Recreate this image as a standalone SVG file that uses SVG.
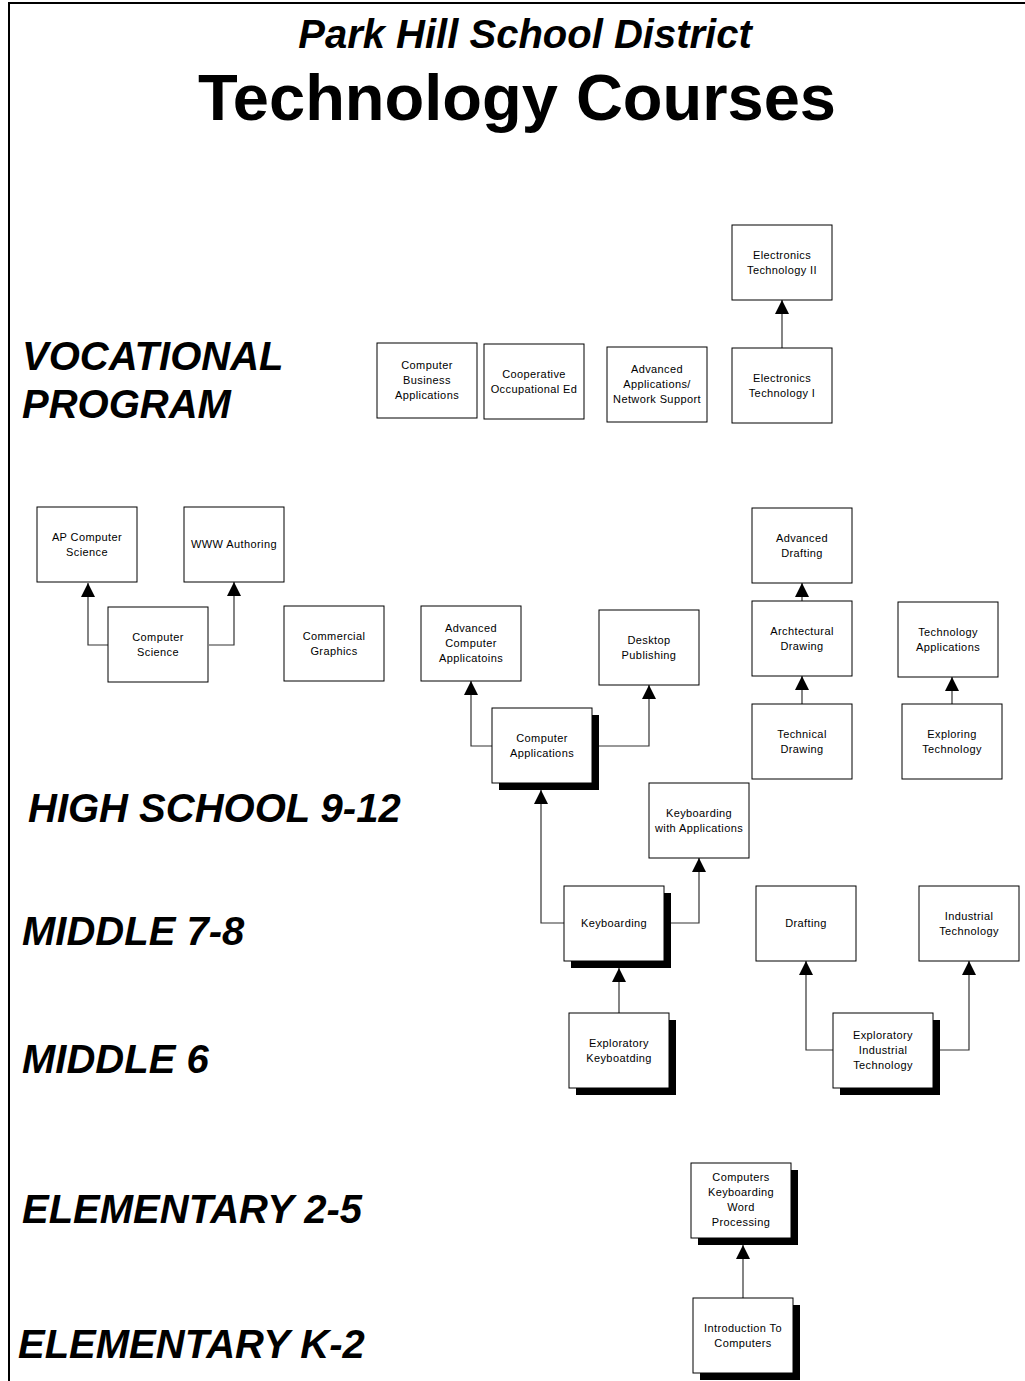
<svg xmlns="http://www.w3.org/2000/svg" width="1025" height="1381" viewBox="0 0 1025 1381">
<style>
.bg{fill:#fff}
.frame{fill:none;stroke:#000;stroke-width:2}
.box{fill:#fff;stroke:#000;stroke-width:1}
.sh{fill:#000}
.lbl{font-family:"Liberation Sans",Arial,sans-serif;font-size:11px;letter-spacing:0.4px;text-anchor:middle;fill:#000}
.lvl{font-family:"Liberation Sans",Arial,sans-serif;font-size:40px;font-weight:bold;font-style:italic;fill:#000}
.conn{fill:none;stroke:#333;stroke-width:1.2;marker-end:url(#ah)}
</style>
<defs>
<marker id="ah" markerUnits="userSpaceOnUse" markerWidth="14" markerHeight="14" refX="14" refY="7" orient="auto">
<path d="M0,0 L14,7 L0,14 z" fill="#000"/>
</marker>
</defs>
<rect class="bg" x="0" y="0" width="1025" height="1381"/>
<rect class="frame" x="9" y="3" width="1100" height="1500"/>

<g id="titles">
<text x="525" y="48" text-anchor="middle" font-family="'Liberation Sans',Arial,sans-serif" font-size="40" font-weight="bold" font-style="italic">Park Hill School District</text>
<text x="517" y="120" text-anchor="middle" font-family="'Liberation Sans',Arial,sans-serif" font-size="65" font-weight="bold">Technology Courses</text>
</g>

<g id="levels">
<text class="lvl" x="22" y="370">VOCATIONAL</text>
<text class="lvl" x="22" y="418">PROGRAM</text>
<text class="lvl" x="28" y="822">HIGH SCHOOL 9-12</text>
<text class="lvl" x="22" y="945">MIDDLE 7-8</text>
<text class="lvl" x="22" y="1073">MIDDLE 6</text>
<text class="lvl" x="22" y="1223">ELEMENTARY 2-5</text>
<text class="lvl" x="18" y="1358">ELEMENTARY K-2</text>
</g>

<g id="connectors">
<path class="conn" d="M782,348 V300"/>
<path class="conn" d="M108,645 H88 V583"/>
<path class="conn" d="M209,645 H234 V582"/>
<path class="conn" d="M492,746 H471 V681"/>
<path class="conn" d="M599,746 H649 V685"/>
<path class="conn" d="M802,601 V583"/>
<path class="conn" d="M802,704 V676"/>
<path class="conn" d="M952,704 V677"/>
<path class="conn" d="M564,923 H541 V790"/>
<path class="conn" d="M671,923 H699 V858"/>
<path class="conn" d="M619,1013 V968"/>
<path class="conn" d="M833,1050 H806 V961"/>
<path class="conn" d="M940,1050 H969 V961"/>
<path class="conn" d="M743,1298 V1245"/>
</g>

<g id="cba"><rect class="box" x="377" y="343" width="100" height="75"/><text class="lbl" x="427" y="369">Computer</text><text class="lbl" x="427" y="384">Business</text><text class="lbl" x="427" y="399">Applications</text></g>
<g id="coe"><rect class="box" x="484" y="344" width="100" height="75"/><text class="lbl" x="534" y="377.5">Cooperative</text><text class="lbl" x="534" y="392.5">Occupational Ed</text></g>
<g id="aans"><rect class="box" x="607" y="347" width="100" height="75"/><text class="lbl" x="657" y="373">Advanced</text><text class="lbl" x="657" y="388">Applications/</text><text class="lbl" x="657" y="403">Network Support</text></g>
<g id="et1"><rect class="box" x="732" y="348" width="100" height="75"/><text class="lbl" x="782" y="381.5">Electronics</text><text class="lbl" x="782" y="396.5">Technology I</text></g>
<g id="et2"><rect class="box" x="732" y="225" width="100" height="75"/><text class="lbl" x="782" y="258.5">Electronics</text><text class="lbl" x="782" y="273.5">Technology II</text></g>

<g id="apcs"><rect class="box" x="37" y="507" width="100" height="75"/><text class="lbl" x="87" y="540.5">AP Computer</text><text class="lbl" x="87" y="555.5">Science</text></g>
<g id="www"><rect class="box" x="184" y="507" width="100" height="75"/><text class="lbl" x="234" y="547.5">WWW Authoring</text></g>
<g id="cs"><rect class="box" x="108" y="607" width="100" height="75"/><text class="lbl" x="158" y="640.5">Computer</text><text class="lbl" x="158" y="655.5">Science</text></g>
<g id="cg"><rect class="box" x="284" y="606" width="100" height="75"/><text class="lbl" x="334" y="639.5">Commercial</text><text class="lbl" x="334" y="654.5">Graphics</text></g>
<g id="aca"><rect class="box" x="421" y="606" width="100" height="75"/><text class="lbl" x="471" y="632">Advanced</text><text class="lbl" x="471" y="647">Computer</text><text class="lbl" x="471" y="662">Applicatoins</text></g>
<g id="dp"><rect class="box" x="599" y="610" width="100" height="75"/><text class="lbl" x="649" y="643.5">Desktop</text><text class="lbl" x="649" y="658.5">Publishing</text></g>
<g id="ca"><rect class="sh" x="499" y="715" width="100" height="75"/><rect class="box" x="492" y="708" width="100" height="75"/><text class="lbl" x="542" y="741.5">Computer</text><text class="lbl" x="542" y="756.5">Applications</text></g>
<g id="ad"><rect class="box" x="752" y="508" width="100" height="75"/><text class="lbl" x="802" y="541.5">Advanced</text><text class="lbl" x="802" y="556.5">Drafting</text></g>
<g id="ard"><rect class="box" x="752" y="601" width="100" height="75"/><text class="lbl" x="802" y="634.5">Archtectural</text><text class="lbl" x="802" y="649.5">Drawing</text></g>
<g id="td"><rect class="box" x="752" y="704" width="100" height="75"/><text class="lbl" x="802" y="737.5">Technical</text><text class="lbl" x="802" y="752.5">Drawing</text></g>
<g id="ta"><rect class="box" x="898" y="602" width="100" height="75"/><text class="lbl" x="948" y="635.5">Technology</text><text class="lbl" x="948" y="650.5">Applications</text></g>
<g id="et"><rect class="box" x="902" y="704" width="100" height="75"/><text class="lbl" x="952" y="737.5">Exploring</text><text class="lbl" x="952" y="752.5">Technology</text></g>

<g id="kwa"><rect class="box" x="649" y="783" width="100" height="75"/><text class="lbl" x="699" y="816.5">Keyboarding</text><text class="lbl" x="699" y="831.5">with Applications</text></g>
<g id="kb"><rect class="sh" x="571" y="893" width="100" height="75"/><rect class="box" x="564" y="886" width="100" height="75"/><text class="lbl" x="614" y="927">Keyboarding</text></g>
<g id="dr"><rect class="box" x="756" y="886" width="100" height="75"/><text class="lbl" x="806" y="927">Drafting</text></g>
<g id="it"><rect class="box" x="919" y="886" width="100" height="75"/><text class="lbl" x="969" y="919.5">Industrial</text><text class="lbl" x="969" y="934.5">Technology</text></g>

<g id="ek"><rect class="sh" x="576" y="1020" width="100" height="75"/><rect class="box" x="569" y="1013" width="100" height="75"/><text class="lbl" x="619" y="1046.5">Exploratory</text><text class="lbl" x="619" y="1061.5">Keyboatding</text></g>
<g id="eit"><rect class="sh" x="840" y="1020" width="100" height="75"/><rect class="box" x="833" y="1013" width="100" height="75"/><text class="lbl" x="883" y="1039">Exploratory</text><text class="lbl" x="883" y="1054">Industrial</text><text class="lbl" x="883" y="1069">Technology</text></g>

<g id="ckwp"><rect class="sh" x="698" y="1170" width="100" height="75"/><rect class="box" x="691" y="1163" width="100" height="75"/><text class="lbl" x="741" y="1181">Computers</text><text class="lbl" x="741" y="1196">Keyboarding</text><text class="lbl" x="741" y="1211">Word</text><text class="lbl" x="741" y="1226">Processing</text></g>
<g id="itc"><rect class="sh" x="700" y="1305" width="100" height="75"/><rect class="box" x="693" y="1298" width="100" height="75"/><text class="lbl" x="743" y="1331.5">Introduction To</text><text class="lbl" x="743" y="1346.5">Computers</text></g>
</svg>
